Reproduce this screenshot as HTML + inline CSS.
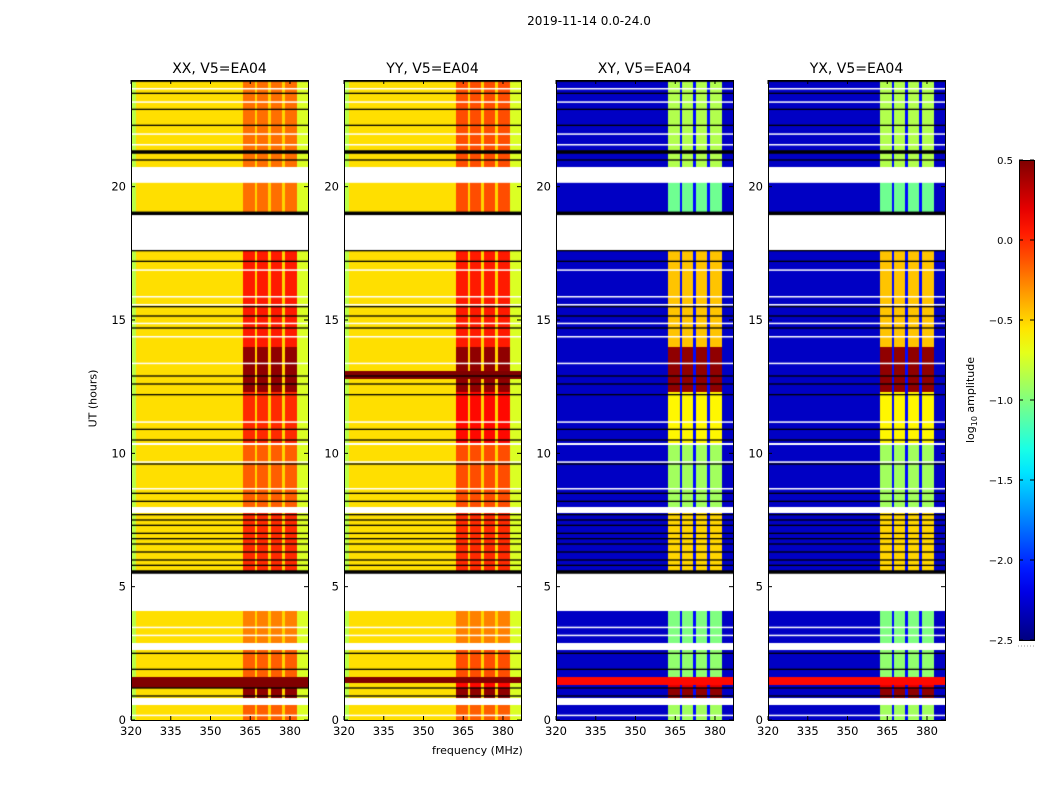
<!DOCTYPE html>
<html><head><meta charset="utf-8"><style>
body{margin:0;background:#fff;font-family:"DejaVu Sans",sans-serif;}
#wrap{position:relative;width:1050px;height:800px;overflow:hidden;}
.t{position:absolute;font-size:12px;color:#000;white-space:nowrap;}
canvas{position:absolute;}
</style></head><body>
<div id="wrap">
<div class="t" style="left:0;width:1178px;top:14px;text-align:center;font-size:12px">2019-11-14 0.0-24.0</div>
<div class="t" style="left:432px;top:744px;font-size:11px">frequency (MHz)</div>
<div class="t" style="left:64px;top:392px;transform:rotate(-90deg);font-size:11px">UT (hours)</div>
<svg id="svg" width="1050" height="800" style="position:absolute;left:0;top:0"></svg>
</div>
<script>
const panelTitles=["XX, V5=EA04","YY, V5=EA04","XY, V5=EA04","YX, V5=EA04"];
const panelLeft=[131,344,556,768];
const xTicks=[320,335,350,365,380];
const yTicks=[0,5,10,15,20];
const cbTicks=[0.5,0.0,-0.5,-1.0,-1.5,-2.0,-2.5];
const basePanel=[-0.53,-0.53,-2.3,-2.3];
// segments: [t0,t1, xxBand, yyBand, xyBand, yxBand]
const segs=[
[0,0.56,-0.15,-0.15,-0.9,-0.9],[0.82,1.2,0.45,0.45,0.45,0.45],[1.2,1.6,0.1,0.1,0.2,0.2],
[1.6,2.62,-0.15,-0.1,-0.95,-0.95],[2.89,4.09,-0.25,-0.25,-1.0,-1.0],
[5.51,7.75,0.0,0.0,-0.5,-0.5],[8.0,10.3,-0.15,-0.1,-0.9,-0.9],[10.4,12.3,0.0,0.1,-0.6,-0.6],
[12.3,14.0,0.45,0.45,0.45,0.45],[14.0,17.6,0.05,0.05,-0.45,-0.45],
[19.0,20.17,-0.2,-0.1,-1.05,-1.05],[20.74,24,-0.2,-0.1,-0.85,-0.85]];
// full-row overrides: [panel,t0,t1,value]
const overrides=[[0,1.2,1.6,0.5],[1,1.4,1.6,0.5],[1,12.8,13.1,0.5],[2,1.3,1.6,0.1],[3,1.3,1.6,0.1]];
const bands=[[362.3,366.8],[367.5,371.7],[372.8,377],[378.1,382.6]];
const blackLines=[23.95,23.5,22.9,22.3,21.3,21.0,19.0,17.6,17.2,15.5,15.15,14.7,12.9,12.6,12.2,10.9,10.5,9.6,8.5,8.2,7.7,7.5,7.3,7.0,6.8,6.6,6.3,6.0,5.8,5.55,2.5,1.9,1.2,0.9];
const thickLines=[21.3,19.0,5.55];
const whiteLines=[23.7,23.2,22.0,21.6,20.2,16.9,15.9,15.6,14.9,14.4,13.4,11.2,9.7,8.7,3.5,3.2,0.2];
const W=177,H=640,TOP=80,FMIN=320,FMAX=386.8,VMIN=-2.5,VMAX=0.5;
const xs=f=>(f-FMIN)/(FMAX-FMIN)*W;
const ys=t=>(1-t/24)*H;
function jet(v){let x=(v-VMIN)/(VMAX-VMIN);x=Math.max(0,Math.min(1,x));
 const c=a=>Math.max(0,Math.min(1,a));
 return [c(1.5-Math.abs(4*x-3)),c(1.5-Math.abs(4*x-2)),c(1.5-Math.abs(4*x-1))].map(q=>Math.round(q*255));}
function val(p,t,f){
 for(const o of overrides){if(o[0]===p&&t>=o[1]&&t<o[2])return o[3];}
 const s=segs.find(s=>t>=s[0]&&t<s[1]); if(!s)return null;
 const b=basePanel[p],cross=p>=2;
 const inB=bands.some(r=>f>=r[0]&&f<r[1]);
 if(inB)return s[2+p];
 if(f>=362.3&&f<382.6)return cross?b+0.2:Math.min(s[2+p],-0.3)-0.2;
 if(f<322)return cross?b:b-0.3;
 if(f>=382.6)return cross?b:b-0.2;
 return b;}
const svg=document.getElementById('svg');const NS='http://www.w3.org/2000/svg';
function mk(tag,attrs,parent){const e=document.createElementNS(NS,tag);for(const k in attrs)e.setAttribute(k,attrs[k]);(parent||svg).appendChild(e);return e;}
const wrap=document.getElementById('wrap');
panelLeft.forEach((L,p)=>{
 const cv=document.createElement('canvas');cv.width=W;cv.height=H;cv.style.left=L+'px';cv.style.top=TOP+'px';
 
 
 wrap.insertBefore(cv,svg);
 const ctx=cv.getContext('2d');const img=ctx.createImageData(W,H);
 for(let y=0;y<H;y++){const t=24*(1-(y+0.5)/H);
  for(let x=0;x<W;x++){const f=FMIN+(x+0.5)/W*(FMAX-FMIN);const v=val(p,t,f);const i=(y*W+x)*4;
   const c=v===null?[255,255,255]:jet(v);img.data[i]=c[0];img.data[i+1]=c[1];img.data[i+2]=c[2];img.data[i+3]=255;}}
 ctx.putImageData(img,0,0);
 whiteLines.forEach(t=>{ctx.fillStyle='#fff';ctx.fillRect(0,ys(t),W,1.5);});
 blackLines.forEach(t=>{ctx.fillStyle='#000';const th=thickLines.includes(t)?3.5:1.3;ctx.fillRect(0,ys(t)-th/2,W,th);});
 const g=mk('g',{});
 
 
 mk('rect',{x:L+0.5,y:TOP+0.5,width:W,height:H,fill:'none',stroke:'#000','stroke-width':1},g);
 const tt=mk('text',{x:L+W/2,y:73,'text-anchor':'middle','font-size':14,'font-family':'DejaVu Sans'},g);tt.textContent=panelTitles[p];
 
 xTicks.forEach(v=>{const X=L+xs(v);mk('line',{x1:X,x2:X,y1:TOP+H,y2:TOP+H-4,stroke:'#000'},g);mk('line',{x1:X,x2:X,y1:TOP,y2:TOP+4,stroke:'#000'},g);
  const tx=mk('text',{x:X,y:TOP+H+15,'text-anchor':'middle','font-size':11.5,'font-family':'DejaVu Sans'},g);tx.textContent=v;});
 yTicks.forEach(v=>{const Y=TOP+ys(v);mk('line',{x1:L,x2:L+4,y1:Y,y2:Y,stroke:'#000'},g);mk('line',{x1:L+W,x2:L+W-4,y1:Y,y2:Y,stroke:'#000'},g);
  const tx=mk('text',{x:L-5,y:Y+4,'text-anchor':'end','font-size':11.5,'font-family':'DejaVu Sans'},g);tx.textContent=v;});
});
// colorbar
const cb=mk('g',{});


const defs=mk('defs',{});const lg=mk('linearGradient',{id:'jg',x1:0,y1:1,x2:0,y2:0},defs);
for(let i=0;i<=20;i++){const c=jet(VMIN+i/20*(VMAX-VMIN));mk('stop',{offset:i/20,'stop-color':`rgb(${c})`},lg);}
mk('rect',{x:1019.5,y:160.5,width:15,height:480,fill:'url(#jg)',stroke:'#000'},cb);
cbTicks.forEach(v=>{const Y=160+(VMAX-v)/(VMAX-VMIN)*480;mk('line',{x1:1019,x2:1023,y1:Y,y2:Y,stroke:'#000'},cb);mk('line',{x1:1030,x2:1034,y1:Y,y2:Y,stroke:'#000'},cb);
 const tx=mk('text',{x:1013,y:Y+4,'font-size':10,'font-family':'DejaVu Sans','text-anchor':'end'},cb);tx.textContent=v.toFixed(1).replace('-','\u2212');});
mk('line',{x1:1018,x2:1035,y1:646,y2:646,stroke:'#999','stroke-dasharray':'1 2'},cb);
const lab=mk('text',{x:974,y:400,'font-size':11,'font-family':'DejaVu Sans','text-anchor':'middle',transform:'rotate(-90 974 400)'},cb);
lab.innerHTML='log<tspan font-size="8" dy="3">10</tspan><tspan dy="-3"> amplitude</tspan>';

</script>
</body></html>
